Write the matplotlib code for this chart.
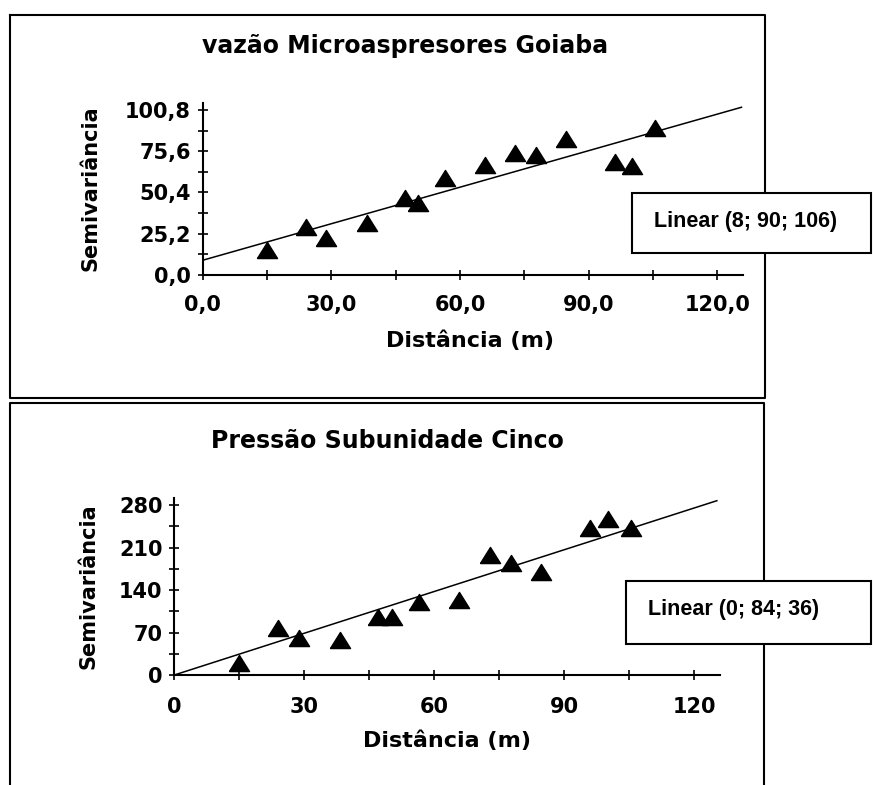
import matplotlib
matplotlib.use("Agg")
import matplotlib.pyplot as plt
from matplotlib.lines import Line2D
from matplotlib.patches import Rectangle
from matplotlib.ticker import MultipleLocator

# lag distances (m), same for both semivariograms
lags = [15.0, 24.0, 28.8, 38.3, 47.1, 50.3, 56.5, 65.8, 72.9, 77.8, 84.6, 96.0, 100.1, 105.5]

# vazao microaspersores goiaba
vazao = [15.3, 29.5, 22.4, 31.5, 46.8, 44.2, 59.0, 67.2, 74.3, 73.3, 82.8, 69.2, 66.5, 89.5]
vazao_fit_x = [0.0, 125.6]
vazao_fit_y = [9.0, 102.4]
vazao_ticks = [0.0, 30.0, 60.0, 90.0, 120.0]
vazao_xlabels = ["0,0", "30,0", "60,0", "90,0", "120,0"]
vazao_yticks = [0.0, 25.2, 50.4, 75.6, 100.8]
vazao_ylabels = ["0,0", "25,2", "50,4", "75,6", "100,8"]

# pressao subunidade cinco
pressao = [19.2, 76.9, 60.4, 57.7, 96.0, 95.0, 120.8, 123.6, 197.7, 184.0, 170.2, 242.7, 256.5, 242.7]
pressao_fit_x = [0.0, 125.2]
pressao_fit_y = [0.0, 287.2]
pressao_ticks = [0, 30, 60, 90, 120]
pressao_xlabels = ["0", "30", "60", "90", "120"]
pressao_yticks = [0, 70, 140, 210, 280]
pressao_ylabels = ["0", "70", "140", "210", "280"]

W, H = 873, 785


def fx(x):
    return x / W


def fy(y):
    return 1 - y / H


fig = plt.figure(figsize=(W / 100, H / 100), dpi=100)
fig.patch.set_facecolor("white")

tri = [(-1, -0.8), (1, -0.8), (0, 0.8), (-1, -0.8)]


def draw_panel(box, ymax, xminor, yminor, lags, vals, fit_x, fit_y,
               xt, xl, yt, yl, pad_x):
    x0, x1, ybot, ytop = box
    ax = fig.add_axes([fx(x0), fy(ybot), (x1 - x0) / W, (ybot - ytop) / H])
    ax.plot(fit_x, fit_y, color="black", lw=1.1, zorder=2)
    ax.plot(lags, vals, linestyle="none", marker=tri, ms=14.5,
            color="black", zorder=3, clip_on=False)
    ax.set_xlim(0, 126)
    ax.set_ylim(0, ymax)
    for s in ["top", "right"]:
        ax.spines[s].set_visible(False)
    for s in ["left", "bottom"]:
        ax.spines[s].set_linewidth(1.5)
    ax.set_xticks(xt)
    ax.set_xticklabels(xl)
    ax.set_yticks(yt)
    ax.set_yticklabels(yl)
    ax.xaxis.set_minor_locator(MultipleLocator(xminor))
    ax.yaxis.set_minor_locator(MultipleLocator(yminor))
    ax.tick_params(which="both", direction="inout", length=7, width=1.2)
    ax.tick_params(axis="x", labelsize=15, pad=pad_x)
    ax.tick_params(axis="y", labelsize=15, pad=5)
    for lab in ax.get_xticklabels() + ax.get_yticklabels():
        lab.set_fontweight("bold")
    return ax


draw_panel((202.7, 743.2, 275, 103), 105, 15, 12.6, lags, vazao,
           vazao_fit_x, vazao_fit_y, vazao_ticks, vazao_xlabels,
           vazao_yticks, vazao_ylabels, 11)
draw_panel((174.3, 720.3, 675, 497.8), 292, 15, 35, lags, pressao,
           pressao_fit_x, pressao_fit_y, pressao_ticks, pressao_xlabels,
           pressao_yticks, pressao_ylabels, 12)

# panel frames
def seg(xs, ys):
    fig.add_artist(Line2D([fx(v) for v in xs], [fy(v) for v in ys],
                          transform=fig.transFigure, color="black", lw=1.5))

seg([10, 765, 765, 10, 10], [15, 15, 398, 398, 15])
seg([10, 10, 764, 764], [795, 403, 403, 795])

# titles and axis labels
fig.text(fx(405), fy(53), "vazão Microaspresores Goiaba", ha="center",
         va="baseline", fontsize=17, fontweight="bold")
fig.text(fx(387), fy(448), "Pressão Subunidade Cinco", ha="center",
         va="baseline", fontsize=17, fontweight="bold")
fig.text(fx(470), fy(347), "Distância (m)", ha="center", va="baseline",
         fontsize=16, fontweight="bold")
fig.text(fx(447), fy(747), "Distância (m)", ha="center", va="baseline",
         fontsize=16, fontweight="bold")
fig.text(fx(91), fy(188), "Semivariância", rotation=90, ha="center",
         va="center", fontsize=15, fontweight="bold")
fig.text(fx(89), fy(586), "Semivariância", rotation=90, ha="center",
         va="center", fontsize=15, fontweight="bold")

# model boxes
for (bx0, by0, by1, tx, ty, txt) in [(632, 193, 253, 654, 227, "Linear (8; 90; 106)"),
                                    (626, 581, 644, 648, 615, "Linear (0; 84; 36)")]:
    fig.add_artist(Rectangle((fx(bx0), fy(by1)), (871 - bx0) / W, (by1 - by0) / H,
                             transform=fig.transFigure, facecolor="white",
                             edgecolor="black", lw=1.5, zorder=5))
    fig.text(fx(tx), fy(ty), txt, ha="left", va="baseline", fontsize=15.5,
             fontweight="bold", family=["Liberation Sans Narrow", "Liberation Sans"],
             zorder=6)

fig.savefig("out.png", dpi=100, facecolor="white")
